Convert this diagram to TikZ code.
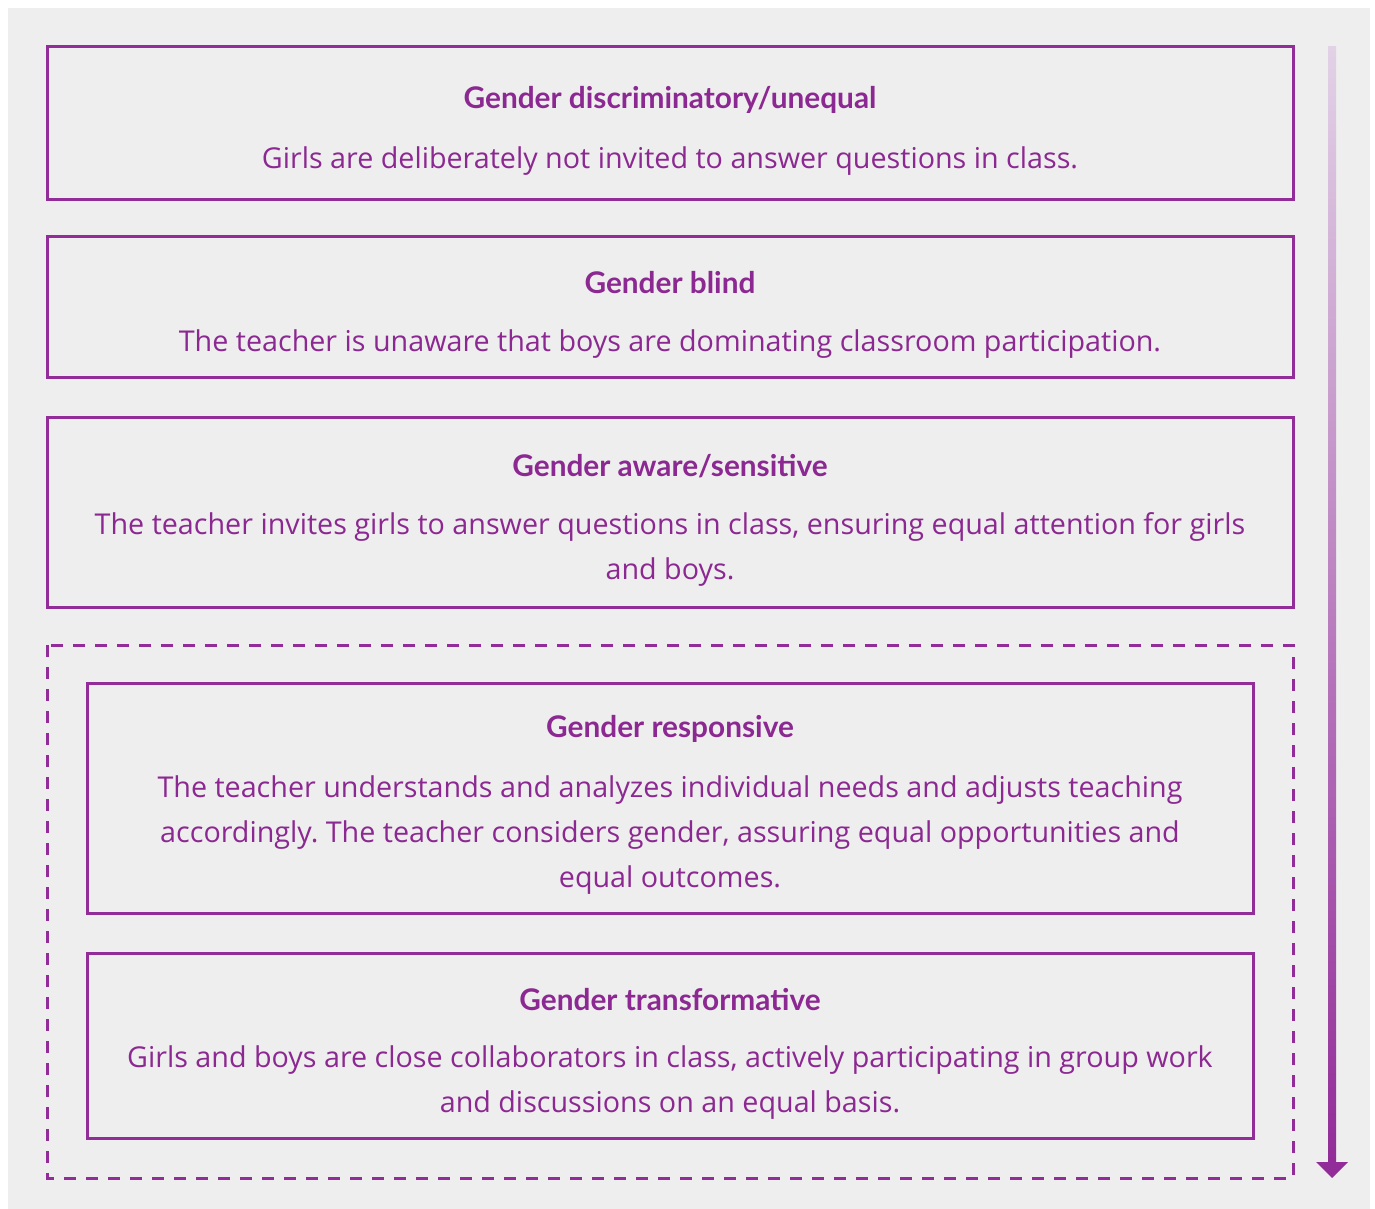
\documentclass[tikz,border=0pt]{standalone}
\usepackage{fontspec}
\setmainfont{Open Sans}
\newfontfamily\titlefont{Lato}
\frenchspacing
\definecolor{bgray}{RGB}{238,238,238}
\definecolor{purp}{RGB}{146,44,152}
\definecolor{ptext}{RGB}{140,40,145}
\definecolor{plight}{RGB}{226,210,230}
\begin{document}
\begin{tikzpicture}[x=0.5pt,y=-0.5pt,
  boxline/.style={draw=purp,line width=1.5pt},
  dashline/.style={draw=purp,line width=1.5pt,dash pattern=on 6pt off 5pt},
  title/.style={text=ptext,font=\titlefont\bfseries\fontsize{14.9}{17}\selectfont,inner sep=0pt},
  body/.style={text=ptext,font=\fontsize{14.35}{22.5}\selectfont,align=center,inner sep=0pt}]
\useasboundingbox (0,0) rectangle (1375,1209);
\fill[white] (0,0) rectangle (1375,1209);
\fill[bgray] (8,8) rectangle (1370,1209);
% boxes
\draw[boxline] (47,47) rectangle (1293,200);
\draw[boxline] (47,237) rectangle (1293,377);
\draw[boxline] (47,417) rectangle (1293,607);
\draw[dashline] (47,645) rectangle (1293,1178);
\draw[boxline] (87,683) rectangle (1253,913);
\draw[boxline] (87,953) rectangle (1253,1138);
% texts
\node[title] (t1) at (670,100) {Gender discriminatory/unequal};
\node[body] (b1) at (670,161) {Girls are deliberately not invited to answer questions in class.};
\node[title] (t2) at (670,283) {Gender blind};
\node[body] (b2) at (670,344) {The teacher is unaware that boys are dominating classroom participation.};
\node[title] (t3) at (670,466) {Gender aware/sensitive};
\node[body] (b3) at (670,549) {The teacher invites girls to answer questions in class, ensuring equal attention for girls\\and boys.};
\node[title] (t4) at (670,729) {Gender responsive};
\node[body] (b4) at (670,835) {The teacher understands and analyzes individual needs and adjusts teaching\\accordingly. The teacher considers gender, assuring equal opportunities and\\equal outcomes.};
\node[title] (t5) at (670,1000) {Gender transformative};
\node[body] (b5) at (670,1083) {Girls and boys are close collaborators in class, actively participating in group work\\and discussions on an equal basis.};
% gradient arrow
\coordinate (atop) at (1332,47);
\coordinate (atip) at (1332,1178);
\shade[top color=plight,bottom color=purp] (1328,47) rectangle (1336,1163);
\fill[purp] (1316,1162) -- (1348,1162) -- (atip) -- cycle;
\end{tikzpicture}
\end{document}
